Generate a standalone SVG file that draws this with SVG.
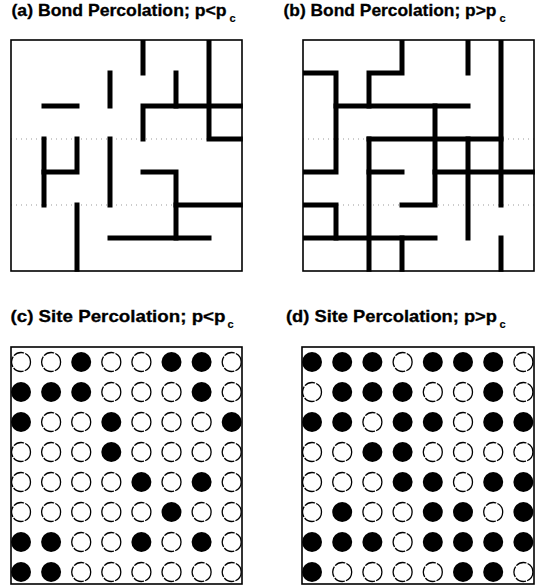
<svg xmlns="http://www.w3.org/2000/svg" width="549" height="588" viewBox="0 0 549 588">
<style>
.title{font-family:"Liberation Sans",Arial,sans-serif;font-weight:bold;font-size:17px;fill:#000;stroke:#000;stroke-width:0.3}
.sub{font-family:"Liberation Sans",Arial,sans-serif;font-weight:bold;font-size:11px;fill:#000;stroke:#000;stroke-width:0.2}
.frame{fill:none;stroke:#000;stroke-width:1.6}
.bond{fill:none;stroke:#000;stroke-width:5;stroke-linecap:square;stroke-linejoin:miter}
.dots{fill:none;stroke:#999;stroke-width:1;stroke-dasharray:1 4}
.f{fill:#000}
.o{fill:#fff;stroke:#000;stroke-width:1.3;stroke-dasharray:11 1.2}
</style>
<defs>
  <clipPath id="clip-a"><rect x="11" y="40" width="231.8" height="231.8"/></clipPath>
  <clipPath id="clip-b"><rect x="303" y="40" width="231.8" height="231.8"/></clipPath>
</defs>
<rect width="549" height="588" fill="#fff"/>

<g id="panel-a">
  <text class="title" x="11.5" y="16" textLength="215" lengthAdjust="spacingAndGlyphs">(a) Bond Percolation; p&lt;p</text>
  <text class="sub" x="229.5" y="22">c</text>
  <path class="dots" d="M11,139 H242 M11,205 H242"/>
  <rect class="frame" x="11" y="40" width="231" height="231"/>
  <g id="bonds-a" clip-path="url(#clip-a)">
    <path class="bond" d="M143,40 V73"/>
    <path class="bond" d="M209,40 V139 H242"/>
    <path class="bond" d="M176,73 V106"/>
    <path class="bond" d="M143,139 V106 H242"/>
    <path class="bond" d="M110,73 V106"/>
    <path class="bond" d="M44,106 H77"/>
    <path class="bond" d="M44,139 V205"/>
    <path class="bond" d="M44,172 H77 V139"/>
    <path class="bond" d="M110,139 V205"/>
    <path class="bond" d="M143,172 H176 V238"/>
    <path class="bond" d="M176,205 H242"/>
    <path class="bond" d="M110,238 H209"/>
    <path class="bond" d="M77,205 V271"/>
  </g>
</g>

<g id="panel-b">
  <text class="title" x="283.5" y="16" textLength="213" lengthAdjust="spacingAndGlyphs">(b) Bond Percolation; p&gt;p</text>
  <text class="sub" x="499.5" y="22">c</text>
  <path class="dots" d="M303,139 H534 M303,205 H534"/>
  <rect class="frame" x="303" y="40" width="231" height="231"/>
  <g id="bonds-b" clip-path="url(#clip-b)">
    <path class="bond" d="M303,73 H336 V172 H303"/>
    <path class="bond" d="M402,40 V73 H369 V106"/>
    <path class="bond" d="M468,40 V73"/>
    <path class="bond" d="M501,40 V205"/>
    <path class="bond" d="M336,106 H468"/>
    <path class="bond" d="M435,106 V205 H402"/>
    <path class="bond" d="M369,139 H501"/>
    <path class="bond" d="M369,139 V271"/>
    <path class="bond" d="M369,172 H402"/>
    <path class="bond" d="M435,172 H534"/>
    <path class="bond" d="M468,139 V238"/>
    <path class="bond" d="M303,205 H336 V238"/>
    <path class="bond" d="M303,238 H435"/>
    <path class="bond" d="M402,238 V271"/>
    <path class="bond" d="M501,238 V271"/>
  </g>
</g>

<g id="panel-c">
  <text class="title" x="10.5" y="321.5" textLength="215" lengthAdjust="spacingAndGlyphs">(c) Site Percolation; p&lt;p</text>
  <text class="sub" x="227.5" y="328">c</text>
  <rect class="frame" x="11" y="347" width="231" height="237"/>
  <g id="sites-c">
    <circle class="o" cx="21" cy="362" r="9.5"/><circle class="o" cx="51.1" cy="362" r="9.5"/><circle class="f" cx="81.2" cy="362" r="10"/><circle class="o" cx="111.3" cy="362" r="9.5"/><circle class="o" cx="141.4" cy="362" r="9.5"/><circle class="f" cx="171.5" cy="362" r="10"/><circle class="f" cx="201.6" cy="362" r="10"/><circle class="o" cx="231.7" cy="362" r="9.5"/>
    <circle class="f" cx="21" cy="392" r="10"/><circle class="f" cx="51.1" cy="392" r="10"/><circle class="f" cx="81.2" cy="392" r="10"/><circle class="o" cx="111.3" cy="392" r="9.5"/><circle class="o" cx="141.4" cy="392" r="9.5"/><circle class="o" cx="171.5" cy="392" r="9.5"/><circle class="f" cx="201.6" cy="392" r="10"/><circle class="o" cx="231.7" cy="392" r="9.5"/>
    <circle class="f" cx="21" cy="422" r="10"/><circle class="o" cx="51.1" cy="422" r="9.5"/><circle class="o" cx="81.2" cy="422" r="9.5"/><circle class="f" cx="111.3" cy="422" r="10"/><circle class="o" cx="141.4" cy="422" r="9.5"/><circle class="o" cx="171.5" cy="422" r="9.5"/><circle class="o" cx="201.6" cy="422" r="9.5"/><circle class="f" cx="231.7" cy="422" r="10"/>
    <circle class="o" cx="21" cy="452" r="9.5"/><circle class="o" cx="51.1" cy="452" r="9.5"/><circle class="o" cx="81.2" cy="452" r="9.5"/><circle class="f" cx="111.3" cy="452" r="10"/><circle class="o" cx="141.4" cy="452" r="9.5"/><circle class="o" cx="171.5" cy="452" r="9.5"/><circle class="o" cx="201.6" cy="452" r="9.5"/><circle class="o" cx="231.7" cy="452" r="9.5"/>
    <circle class="o" cx="21" cy="482" r="9.5"/><circle class="o" cx="51.1" cy="482" r="9.5"/><circle class="o" cx="81.2" cy="482" r="9.5"/><circle class="o" cx="111.3" cy="482" r="9.5"/><circle class="f" cx="141.4" cy="482" r="10"/><circle class="o" cx="171.5" cy="482" r="9.5"/><circle class="f" cx="201.6" cy="482" r="10"/><circle class="o" cx="231.7" cy="482" r="9.5"/>
    <circle class="o" cx="21" cy="512" r="9.5"/><circle class="o" cx="51.1" cy="512" r="9.5"/><circle class="o" cx="81.2" cy="512" r="9.5"/><circle class="o" cx="111.3" cy="512" r="9.5"/><circle class="o" cx="141.4" cy="512" r="9.5"/><circle class="f" cx="171.5" cy="512" r="10"/><circle class="o" cx="201.6" cy="512" r="9.5"/><circle class="o" cx="231.7" cy="512" r="9.5"/>
    <circle class="f" cx="21" cy="542" r="10"/><circle class="f" cx="51.1" cy="542" r="10"/><circle class="o" cx="81.2" cy="542" r="9.5"/><circle class="o" cx="111.3" cy="542" r="9.5"/><circle class="f" cx="141.4" cy="542" r="10"/><circle class="o" cx="171.5" cy="542" r="9.5"/><circle class="f" cx="201.6" cy="542" r="10"/><circle class="o" cx="231.7" cy="542" r="9.5"/>
    <circle class="f" cx="21" cy="572" r="10"/><circle class="f" cx="51.1" cy="572" r="10"/><circle class="o" cx="81.2" cy="572" r="9.5"/><circle class="o" cx="111.3" cy="572" r="9.5"/><circle class="o" cx="141.4" cy="572" r="9.5"/><circle class="o" cx="171.5" cy="572" r="9.5"/><circle class="o" cx="201.6" cy="572" r="9.5"/><circle class="o" cx="231.7" cy="572" r="9.5"/>
  </g>
</g>

<g id="panel-d">
  <text class="title" x="286" y="321.5" textLength="211" lengthAdjust="spacingAndGlyphs">(d) Site Percolation; p&gt;p</text>
  <text class="sub" x="499.5" y="328">c</text>
  <rect class="frame" x="302" y="347" width="232" height="237"/>
  <g id="sites-d">
    <circle class="f" cx="312" cy="362" r="10"/><circle class="f" cx="342.2" cy="362" r="10"/><circle class="f" cx="372.4" cy="362" r="10"/><circle class="o" cx="402.6" cy="362" r="9.5"/><circle class="f" cx="432.8" cy="362" r="10"/><circle class="f" cx="463" cy="362" r="10"/><circle class="f" cx="493.2" cy="362" r="10"/><circle class="o" cx="523.4" cy="362" r="9.5"/>
    <circle class="o" cx="312" cy="392" r="9.5"/><circle class="f" cx="342.2" cy="392" r="10"/><circle class="f" cx="372.4" cy="392" r="10"/><circle class="f" cx="402.6" cy="392" r="10"/><circle class="o" cx="432.8" cy="392" r="9.5"/><circle class="o" cx="463" cy="392" r="9.5"/><circle class="f" cx="493.2" cy="392" r="10"/><circle class="o" cx="523.4" cy="392" r="9.5"/>
    <circle class="f" cx="312" cy="422" r="10"/><circle class="f" cx="342.2" cy="422" r="10"/><circle class="o" cx="372.4" cy="422" r="9.5"/><circle class="f" cx="402.6" cy="422" r="10"/><circle class="f" cx="432.8" cy="422" r="10"/><circle class="o" cx="463" cy="422" r="9.5"/><circle class="f" cx="493.2" cy="422" r="10"/><circle class="f" cx="523.4" cy="422" r="10"/>
    <circle class="o" cx="312" cy="452" r="9.5"/><circle class="o" cx="342.2" cy="452" r="9.5"/><circle class="f" cx="372.4" cy="452" r="10"/><circle class="f" cx="402.6" cy="452" r="10"/><circle class="o" cx="432.8" cy="452" r="9.5"/><circle class="o" cx="463" cy="452" r="9.5"/><circle class="o" cx="493.2" cy="452" r="9.5"/><circle class="o" cx="523.4" cy="452" r="9.5"/>
    <circle class="o" cx="312" cy="482" r="9.5"/><circle class="o" cx="342.2" cy="482" r="9.5"/><circle class="o" cx="372.4" cy="482" r="9.5"/><circle class="f" cx="402.6" cy="482" r="10"/><circle class="f" cx="432.8" cy="482" r="10"/><circle class="o" cx="463" cy="482" r="9.5"/><circle class="f" cx="493.2" cy="482" r="10"/><circle class="f" cx="523.4" cy="482" r="10"/>
    <circle class="o" cx="312" cy="512" r="9.5"/><circle class="f" cx="342.2" cy="512" r="10"/><circle class="o" cx="372.4" cy="512" r="9.5"/><circle class="o" cx="402.6" cy="512" r="9.5"/><circle class="f" cx="432.8" cy="512" r="10"/><circle class="f" cx="463" cy="512" r="10"/><circle class="o" cx="493.2" cy="512" r="9.5"/><circle class="f" cx="523.4" cy="512" r="10"/>
    <circle class="f" cx="312" cy="542" r="10"/><circle class="f" cx="342.2" cy="542" r="10"/><circle class="f" cx="372.4" cy="542" r="10"/><circle class="o" cx="402.6" cy="542" r="9.5"/><circle class="f" cx="432.8" cy="542" r="10"/><circle class="f" cx="463" cy="542" r="10"/><circle class="f" cx="493.2" cy="542" r="10"/><circle class="f" cx="523.4" cy="542" r="10"/>
    <circle class="f" cx="312" cy="572" r="10"/><circle class="o" cx="342.2" cy="572" r="9.5"/><circle class="o" cx="372.4" cy="572" r="9.5"/><circle class="o" cx="402.6" cy="572" r="9.5"/><circle class="o" cx="432.8" cy="572" r="9.5"/><circle class="f" cx="463" cy="572" r="10"/><circle class="f" cx="493.2" cy="572" r="10"/><circle class="o" cx="523.4" cy="572" r="9.5"/>
  </g>
</g>
</svg>
